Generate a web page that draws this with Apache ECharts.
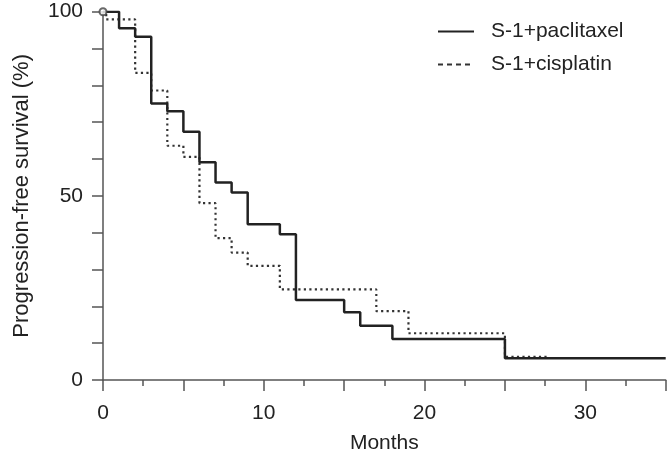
<!DOCTYPE html>
<html>
<head>
<meta charset="utf-8">
<script src="https://cdn.jsdelivr.net/npm/echarts@6/dist/echarts.min.js"></script>
<style>
  html, body { margin: 0; padding: 0; background: #fff; }
  #chart { width: 667px; height: 456px; }
</style>
</head>
<body>
<div id="chart"></div>
<script>
// Kaplan-Meier steps: [month, survival %] after each drop
const paclitaxelSteps = [
  [0, 100], [1, 95.5], [2, 93.2], [3, 75.1], [4, 73.0], [5, 67.4], [6, 59.1],
  [7, 53.6], [8, 50.9], [9, 42.3], [11, 39.6], [12, 21.7], [15, 18.4],
  [16, 14.7], [18, 11.1], [25, 5.9], [35, 5.9]
]
const cisplatinSteps = [
  [0, 100], [0.2, 97.9], [2, 83.4], [3, 78.6], [4, 63.6], [5, 60.6], [6, 48.0],
  [7, 38.5], [8, 34.6], [9, 31.0], [11, 24.6], [17, 18.7], [19, 12.7],
  [25, 6.3], [27.7, 6.3]
]
const censorMarks = [[0, 100]]
const seriesNames = ['S-1+paclitaxel', 'S-1+cisplatin']
const xLabelTicks = [0, 10, 20, 30]
const yLabelTicks = [0, 50, 100]

const textColor = '#222'
const axisColor = '#555'
const font = 'Liberation Sans'

const chart = echarts.init(document.getElementById('chart'))

const option = {
  animation: false,
  textStyle: { fontFamily: font },
  grid: { left: 103, right: 1.3, top: 11.7, bottom: 76, containLabel: false, outerBoundsMode: 'none' },
  legend: {
    orient: 'vertical',
    left: 432,
    top: 16,
    itemWidth: 36,
    itemHeight: 14,
    itemGap: 12,
    textStyle: { fontSize: 21, color: textColor, fontFamily: font, padding: [0, 0, 0, 12] },
    data: [
      { name: seriesNames[0], itemStyle: { opacity: 0 }, lineStyle: { type: 'solid', width: 2, color: '#222' } },
      { name: seriesNames[1], itemStyle: { opacity: 0 }, lineStyle: { type: [5, 4], width: 2, color: '#333' } }
    ]
  },
  xAxis: {
    type: 'value',
    min: 0,
    max: 35,
    interval: 5,
    name: 'Months',
    nameLocation: 'middle',
    nameGap: 53,
    nameTextStyle: { fontSize: 21, color: textColor, fontFamily: font },
    splitLine: { show: false },
    axisLine: { onZero: false, lineStyle: { color: axisColor, width: 1.5 } },
    axisTick: { length: 11, lineStyle: { color: axisColor, width: 1.5 } },
    minorTick: { show: true, splitNumber: 2, length: 6, lineStyle: { color: axisColor, width: 1.5 } },
    axisLabel: {
      margin: 23,
      fontSize: 21,
      color: textColor,
      formatter: (v) => (xLabelTicks.includes(v) ? String(v) : '')
    }
  },
  yAxis: {
    type: 'value',
    min: 0,
    max: 100,
    interval: 10,
    name: 'Progression-free survival (%)',
    nameLocation: 'middle',
    nameGap: 70,
    nameTextStyle: { fontSize: 22, color: textColor, fontFamily: font },
    splitLine: { show: false },
    axisLine: { show: true, lineStyle: { color: axisColor, width: 1.5 } },
    axisTick: { show: true, length: 11, lineStyle: { color: axisColor, width: 1.5 } },
    axisLabel: {
      margin: 20,
      fontSize: 21,
      color: textColor,
      formatter: (v) => (yLabelTicks.includes(v) ? String(v) : '')
    }
  },
  series: [
    {
      name: seriesNames[0],
      type: 'line',
      step: 'end',
      symbol: 'none',
      data: paclitaxelSteps,
      lineStyle: { color: '#222', width: 2.5 },
      itemStyle: { color: '#222' },
      z: 3
    },
    {
      name: seriesNames[1],
      type: 'line',
      step: 'end',
      symbol: 'none',
      data: cisplatinSteps,
      lineStyle: { color: '#333', width: 2.2, type: [2.2, 3.3] },
      itemStyle: { color: '#333' },
      z: 2
    },
    {
      name: 'censored',
      type: 'scatter',
      symbol: 'emptyCircle',
      symbolSize: 7,
      data: censorMarks,
      itemStyle: { color: '#444', borderWidth: 1.2 },
      z: 4
    }
  ]
}

chart.setOption(option)
window.addEventListener('resize', () => chart.resize())
</script>
</body>
</html>
